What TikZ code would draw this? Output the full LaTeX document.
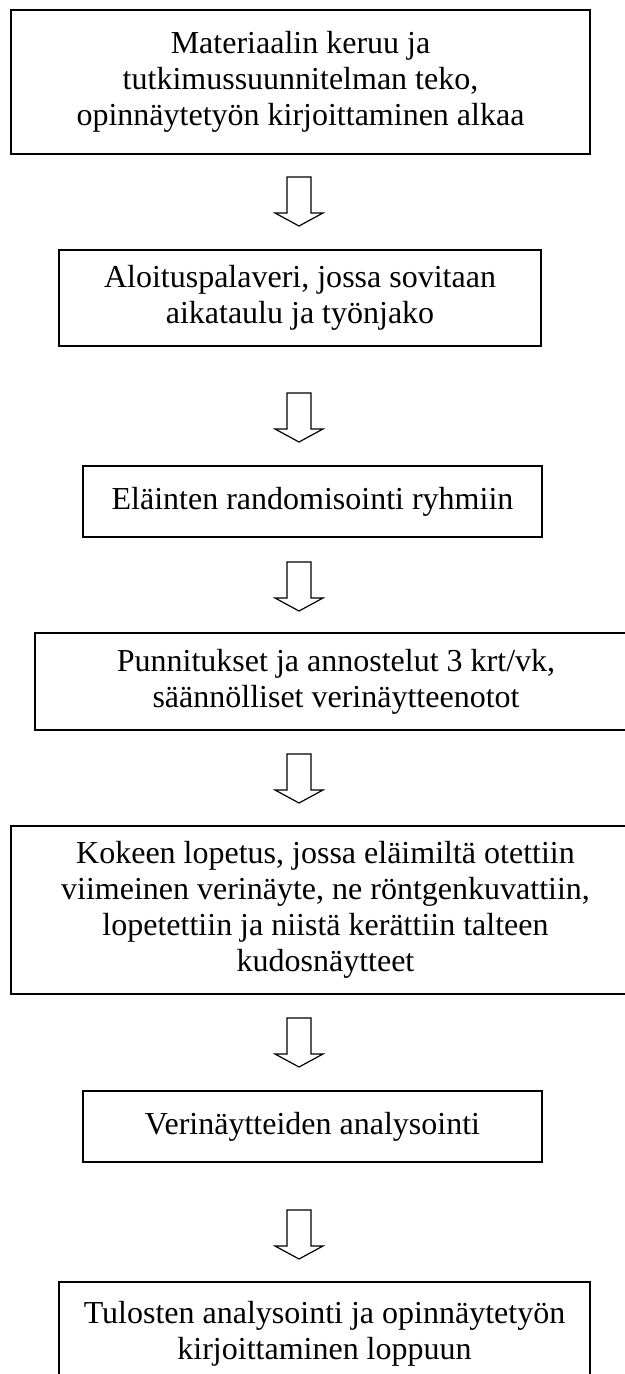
\documentclass[tikz,border=0pt]{standalone}
\usepackage{fontspec}
\setmainfont{Liberation Serif}

\begin{document}
\begin{tikzpicture}[x=0.5pt,y=-0.5pt,
	stage/.style={draw,line width=0.7pt,align=center,inner sep=0pt,
		font=\fontsize{16}{18}\selectfont},
	downarrow/.pic={
		\draw[line width=0.6pt] (-12,0) -- (-12,36) -- (-24,36) -- (0,49)
			-- (24,36) -- (12,36) -- (12,0) -- cycle;}]
	
	\useasboundingbox (0,0) rectangle (625,1374);
	
	\node[stage,minimum width=289.5pt,minimum height=72pt] (s1) at (300.5,82)
		{Materiaalin keruu ja\\ tutkimussuunnitelman teko,\\ opinnäytetyön kirjoittaminen alkaa};
	\node[stage,minimum width=241pt,minimum height=48pt] (s2) at (300,298)
		{Aloituspalaveri, jossa sovitaan\\ aikataulu ja työnjako};
	\node[stage,minimum width=229.5pt,minimum height=35.5pt] (s3) at (312.5,501.5)
		{Eläinten randomisointi ryhmiin};
	\node[stage,minimum width=301pt,minimum height=48.5pt] (s4) at (336,681.5)
		{Punnitukset ja annostelut 3 krt/vk,\\ säännölliset verinäytteenotot};
	\node[stage,minimum width=314.5pt,minimum height=84pt] (s5) at (325.5,910)
		{Kokeen lopetus, jossa eläimiltä otettiin\\ viimeinen verinäyte, ne röntgenkuvattiin,\\ lopetettiin ja niistä kerättiin talteen\\ kudosnäytteet};
	\node[stage,minimum width=229.5pt,minimum height=35.5pt] (s6) at (312.5,1126.5)
		{Verinäytteiden analysointi};
	\node[stage,minimum width=265.5pt,minimum height=52pt] (s7) at (324.5,1334)
		{Tulosten analysointi ja opinnäytetyön\\ kirjoittaminen loppuun};
	
	% hollow arrows between the stages
	\foreach \y in {177,393,562,754,1018,1210}
		\pic at (299,\y) {downarrow};
	
\end{tikzpicture}
\end{document}
